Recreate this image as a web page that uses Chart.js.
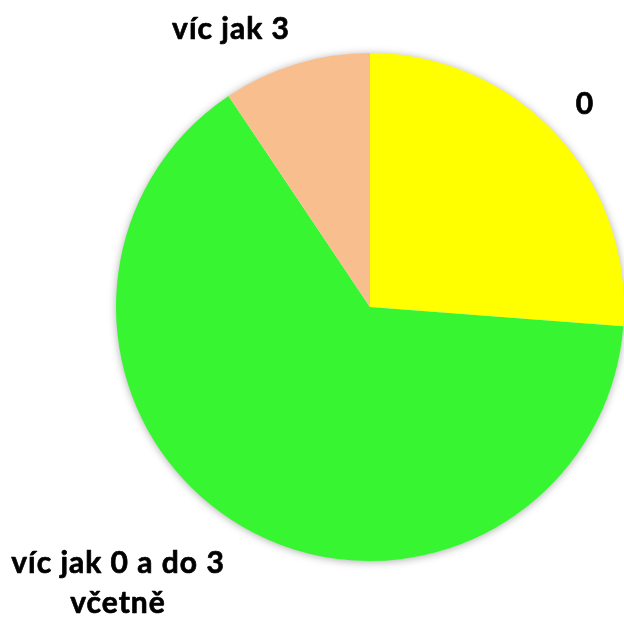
<!DOCTYPE html>
<html><head><meta charset="utf-8">
<script src="https://cdn.jsdelivr.net/npm/chart.js@4"></script>
<style>html,body{margin:0;padding:0;background:#fff;overflow:hidden}canvas{display:block}</style>
</head><body>
<canvas id="c" width="624" height="621"></canvas>
<script>
const categories = ['0', 'víc jak 0 a do 3 včetně', 'víc jak 3'];
const values = [26.2, 64.4, 9.4];
const colors = ['#FFFF00', '#38F532', '#F9BE8E'];

// label text lines and their placement (pixel anchor: center x, baseline y)
const labelLines = [['0'], ['víc jak 0 a do 3', 'včetně'], ['víc jak 3']];
const labelPos = [[585, 114], [118, 573], [231, 39]];

const labelPlugin = {
  id: 'labels',
  afterDraw(chart) {
    const ctx = chart.ctx;
    ctx.save();
    ctx.font = 'bold 30px Lato';
    ctx.letterSpacing = '1px';
    ctx.fillStyle = '#000';
    ctx.strokeStyle = '#000';
    ctx.lineWidth = 0.7;
    ctx.lineJoin = 'round';
    ctx.textAlign = 'center';
    ctx.textBaseline = 'alphabetic';
    labelLines.forEach((lines, i) => {
      lines.forEach((t, j) => {
        ctx.fillText(t, labelPos[i][0], labelPos[i][1] + j * 40);
        ctx.strokeText(t, labelPos[i][0], labelPos[i][1] + j * 40);
      });
    });
    ctx.restore();
  }
};
const shadowPlugin = {
  id: 'shadow',
  beforeDatasetsDraw(chart) {
    const arc = chart.getDatasetMeta(0).data[0];
    if (!arc) return;
    const ctx = chart.ctx;
    ctx.save();
    ctx.shadowColor = 'rgba(0,0,0,0.35)';
    ctx.shadowBlur = 8;
    ctx.shadowOffsetY = 1;
    ctx.fillStyle = '#ffffff';
    ctx.beginPath();
    ctx.arc(arc.x, arc.y, arc.outerRadius - 0.5, 0, Math.PI * 2);
    ctx.fill();
    ctx.restore();
  }
};

new Chart(document.getElementById('c'), {
  type: 'pie',
  data: { labels: categories, datasets: [{ data: values, backgroundColor: colors, borderWidth: 0 }] },
  options: {
    responsive: false,
    animation: false,
    layout: { padding: { left: 116, right: -2, top: 52, bottom: 59 } },
    plugins: { legend: { display: false }, tooltip: { enabled: false } }
  },
  plugins: [shadowPlugin, labelPlugin]
});
</script>
</body></html>
